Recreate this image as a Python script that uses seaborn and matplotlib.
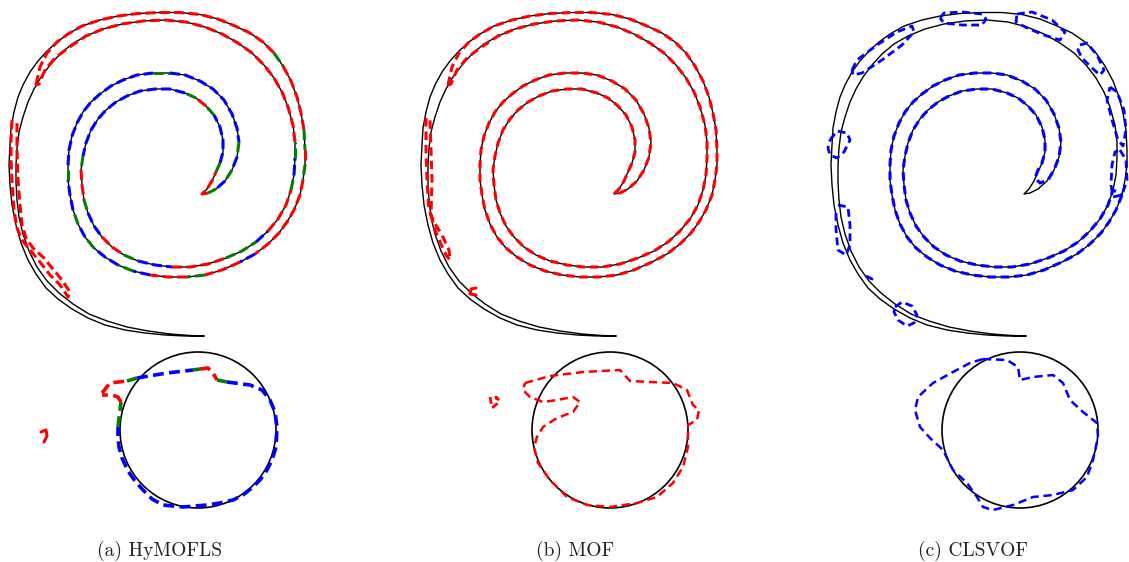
import matplotlib
matplotlib.use("Agg")
import matplotlib.pyplot as plt
from matplotlib.patches import Circle
import pandas as pd
import seaborn as sns

# ---------------- data (panel-local pixel coordinates) ----------------
captions = ["(a) HyMOFLS", "(b) MOF", "(c) CLSVOF"]
caption_x = [160, 163, 151]

# reference filament: outside face (tail tip -> spiral tip) and inside face (spiral tip -> tail tip)
ref_out_x = [204, 185, 165, 145, 125, 105, 88, 72, 58, 46, 36, 28, 21, 16, 12, 10, 9, 10, 11, 14,
             18, 23, 30, 38, 47, 57, 68, 82, 100, 118, 138, 160, 180, 200, 218, 235, 250, 263, 274, 283,
             291, 297, 301, 304, 305, 305, 303, 300, 294, 287, 279, 268, 255, 240, 222, 205, 187, 168, 150, 133,
             118, 105, 94, 85, 78, 73, 70, 68, 68, 69, 72, 77, 83, 91, 100, 111, 123, 137, 153, 170,
             185, 200, 213, 224, 232, 237, 239, 237, 232, 225, 216, 208, 202]
ref_out_y = [336, 336, 335, 333, 330, 325, 318, 309, 299, 288, 274, 260, 243, 225, 205, 185, 165, 145, 128, 112,
             97, 85, 72, 61, 51, 42, 34, 26, 20, 16, 13.5, 12.5, 12.5, 14.5, 19, 26, 33, 42, 53, 66,
             81, 97, 113, 130, 150, 165, 180, 195, 210, 222, 233, 244, 254, 262, 270, 275, 277, 277, 275, 271,
             265, 257, 248, 237, 224, 210, 195, 180, 165, 150, 136, 123, 112, 102, 94, 86, 80, 75, 73, 73,
             75, 81, 89, 100, 114, 128, 142, 157, 170, 181, 189, 193, 194]
ref_in_x = [202, 207, 212, 216, 220, 223, 223, 220, 214, 206, 196, 185, 170, 155, 140, 127, 116, 106, 98, 91,
            86, 83, 81, 82, 84, 88, 94, 102, 112, 124, 138, 155, 172, 190, 208, 226, 242, 256, 268, 278,
            286, 291, 294, 295, 295, 293, 288, 282, 274, 264, 252, 238, 222, 205, 186, 165, 143, 122, 103, 86,
            72, 60, 50, 41, 34, 28, 23, 19, 17, 16, 16, 17, 19, 23, 29, 37, 47, 59, 73, 89,
            107, 127, 148, 170, 190, 204]
ref_in_y = [194, 189, 181, 172, 163, 152, 140, 127, 115, 106, 98, 93, 89, 89, 91, 96, 102, 110, 119, 130,
            143, 156, 170, 185, 200, 213, 226, 237, 247, 255, 261, 265, 267, 267, 264, 258, 251, 242, 231, 219,
            205, 190, 175, 158, 142, 125, 107, 92, 78, 65, 53, 43, 34, 27, 22, 20, 21, 24, 29, 36,
            44, 54, 65, 77, 89, 102, 117, 132, 148, 165, 182, 200, 217, 234, 251, 267, 281, 293, 304, 314,
            321, 327, 331, 334, 335.5, 336]
ref_circle_center = (198, 430)
ref_circle_radius = 78

# computed interface following the spiral (HyMOFLS and MOF): closed loop
trace_x = [36, 40, 47, 57, 68, 82, 100, 118, 138, 160, 180, 200, 218, 235, 250, 263, 274, 283, 291, 297,
           301, 304, 305, 305, 303, 300, 294, 287, 279, 268, 255, 240, 222, 205, 187, 168, 150, 133, 118, 105,
           94, 85, 78, 73, 70, 68, 68, 69, 72, 77, 83, 91, 100, 111, 123, 137, 153, 170, 185, 200,
           213, 224, 232, 237, 239, 237, 232, 225, 216, 208, 202, 207, 212, 216, 220, 223, 223, 220, 214, 206,
           196, 185, 170, 155, 140, 127, 116, 106, 98, 91, 86, 83, 81, 82, 84, 88, 94, 102, 112, 124,
           138, 155, 172, 190, 208, 226, 242, 256, 268, 278, 286, 291, 294, 295, 295, 293, 288, 282, 274, 264,
           252, 238, 222, 205, 186, 165, 143, 122, 103, 86, 68, 55, 45, 39]
trace_y = [85, 67, 53, 42, 34, 26, 20, 16, 13.5, 12.5, 12.5, 14.5, 19, 26, 33, 42, 53, 66, 81, 97,
           113, 130, 150, 165, 180, 195, 210, 222, 233, 244, 254, 262, 270, 275, 277, 277, 275, 271, 265, 257,
           248, 237, 224, 210, 195, 180, 165, 150, 136, 123, 112, 102, 94, 86, 80, 75, 73, 73, 75, 81,
           89, 100, 114, 128, 142, 157, 170, 181, 189, 193, 194, 189, 181, 172, 163, 152, 140, 127, 115, 106,
           98, 93, 89, 89, 91, 96, 102, 110, 119, 130, 143, 156, 170, 185, 200, 213, 226, 237, 247, 255,
           261, 265, 267, 267, 264, 258, 251, 242, 231, 219, 205, 190, 175, 158, 142, 125, 107, 92, 78, 65,
           53, 43, 34, 27, 22, 20, 21, 24, 29, 36, 48, 58, 70, 84]
# material of the HyMOFLS trace, as runs of segments: r = MOF, b = level set, g = transition
hymofls_phase_runs = [("r", 16), ("g", 1), ("r", 4), ("g", 1), ("r", 1), ("g", 1), ("r", 6), ("b", 1),
                      ("r", 2), ("g", 1), ("r", 2), ("b", 1), ("g", 1), ("b", 2), ("g", 1), ("b", 1),
                      ("g", 1), ("b", 2), ("g", 1), ("b", 10), ("g", 1), ("b", 7), ("g", 1), ("b", 1),
                      ("g", 1), ("b", 1), ("g", 1), ("r", 4), ("g", 1), ("b", 4), ("g", 1), ("r", 1),
                      ("g", 1), ("b", 10), ("g", 1), ("r", 2), ("g", 1), ("b", 2), ("r", 2), ("g", 1),
                      ("b", 2), ("r", 3), ("g", 2), ("b", 1), ("r", 3), ("g", 1), ("b", 1), ("g", 1),
                      ("r", 20)]

# HyMOFLS extra pieces
hy_left_x = [12, 11, 11, 12, 14, 17, 22, 30, 40, 50, 60, 68, 70, 62, 52, 44, 33, 26, 22, 20, 18, 17, 17]
hy_left_y = [120, 140, 160, 180, 210, 228, 240, 250, 262, 275, 285, 297, 292, 280, 268, 258, 248, 238, 225, 205, 180, 150, 122]
hy_drop_x = [41, 46, 47, 44]
hy_drop_y = [432, 430, 436, 442]
hy_circle_x = [102, 110, 127, 137, 167, 193, 200, 208, 213, 217, 227, 250, 262, 270, 275, 277, 276, 272, 267, 260,
               253, 243, 233, 220, 207, 183, 163, 152, 143, 135, 128, 122, 119, 118, 118, 119, 121, 118, 112, 102]
hy_circle_y = [393, 383, 381, 378, 373, 370, 369, 368, 373, 380, 382, 385, 390, 400, 412, 427, 447, 460, 470, 480,
               487, 495, 500, 503, 505, 507, 505, 499, 490, 481, 471, 458, 447, 437, 427, 418, 402, 397, 395, 395]
hy_circle_phase_runs = [("r", 2), ("g", 1), ("b", 2), ("g", 1), ("r", 3), ("g", 1), ("b", 24), ("g", 2), ("r", 3)]

# MOF extra pieces
mof_left_x = [14, 14, 15, 17, 22, 30, 37, 38, 34, 28, 23, 19, 20, 19, 18]
mof_left_y = [118, 150, 180, 210, 222, 235, 250, 260, 255, 242, 230, 215, 180, 150, 120]
mof_c_x = [64, 59, 58, 64]
mof_c_y = [288, 289, 294, 295]
mof_v_x = [78, 80, 86, 84, 88]
mof_v_y = [397, 408, 403, 397, 401]
mof_circle_x = [113, 138, 171, 208, 218, 238, 261, 275, 281, 287, 285, 276, 276, 271, 261, 245, 225, 198,
                175, 155, 138, 126, 122, 125, 131, 145, 161, 168, 161, 145, 131, 118, 111, 113]
mof_circle_y = [383, 376, 372, 370, 381, 382, 383, 390, 405, 410, 420, 425, 447, 467, 483, 497, 503, 507,
                505, 497, 480, 463, 447, 437, 427, 418, 412, 402, 397, 400, 402, 397, 390, 383]

# CLSVOF pieces
clsvof_trace_x = [300, 294, 287, 279, 268, 255, 240, 222, 205, 187, 168, 150, 133, 118, 105, 94, 85, 78, 73, 70,
                  68, 68, 69, 72, 77, 83, 91, 100, 111, 123, 137, 153, 170, 185, 200, 213, 224, 232, 237, 239,
                  237, 232, 226, 218, 213, 216, 220, 223, 223, 220, 214, 206, 196, 185, 170, 155, 140, 127, 116, 106,
                  98, 91, 86, 83, 81, 82, 84, 88, 94, 102, 112, 124, 138, 155, 172, 190, 208, 226, 242, 256,
                  268, 278, 286, 291, 300]
clsvof_trace_y = [195, 210, 222, 233, 244, 254, 262, 270, 275, 277, 277, 275, 271, 265, 257, 248, 237, 224, 210, 195,
                  180, 165, 150, 136, 123, 112, 102, 94, 86, 80, 75, 73, 73, 75, 81, 89, 100, 114, 128, 142,
                  157, 170, 180, 183, 178, 170, 163, 152, 140, 127, 115, 106, 98, 93, 89, 89, 91, 96, 102, 110,
                  119, 130, 143, 156, 170, 185, 200, 213, 226, 237, 247, 255, 261, 265, 267, 267, 264, 258, 251, 242,
                  231, 219, 205, 190, 195]
clsvof_blobs = [
    ([118, 122, 140, 160, 164, 160, 140, 122, 118], [18, 13, 12, 14, 19, 25, 25, 23, 18]),
    ([195, 210, 230, 243, 238, 222, 205, 194, 195], [14, 12, 20, 32, 40, 35, 28, 22, 14]),
    ([258, 265, 275, 282, 278, 270, 260, 256, 258], [45, 43, 55, 70, 75, 68, 58, 50, 45]),
    ([288, 295, 302, 304, 301, 296, 290, 285, 288], [87, 92, 110, 130, 146, 140, 120, 100, 87]),
    ([298, 304, 305, 300, 291, 289, 290, 293, 298], [150, 160, 180, 195, 197, 185, 165, 152, 150]),
    ([30, 35, 55, 75, 90, 92, 80, 60, 40, 31, 30], [70, 60, 45, 32, 26, 32, 45, 60, 73, 75, 70]),
    ([8, 15, 25, 28, 22, 15, 8, 6, 8], [140, 131, 133, 140, 152, 158, 155, 148, 140]),
    ([16, 26, 28, 28, 24, 16, 14, 14], [205, 207, 225, 245, 255, 250, 230, 210]),
    ([44, 50, 48], [276, 279, 283]),
    ([73, 80, 90, 95, 92, 85, 76, 72, 73], [307, 302, 306, 315, 323, 326, 320, 312, 307]),
]
clsvof_circle_x = [161, 185, 196, 198, 211, 231, 241, 248, 261, 275, 276, 271, 265, 251, 231, 211, 191, 171,
                   161, 155, 145, 131, 121, 108, 98, 93, 96, 111, 131, 148, 161]
clsvof_circle_y = [359, 360, 367, 380, 377, 375, 383, 400, 412, 423, 437, 460, 477, 490, 495, 497, 505, 510,
                   507, 497, 483, 470, 450, 438, 427, 410, 397, 383, 372, 363, 359]

# ---------------- style ----------------
COL = {"r": "#ff0000", "b": "#0000ff", "g": "#008000"}
panel_offsets = [0, 412, 822]
W, H = 1129, 562
PANEL_W = 307

sns.set_theme(style="white")
plt.rcParams["font.family"] = ["cmr10", "DejaVu Serif"]
plt.rcParams["axes.formatter.use_mathtext"] = True


def line(ax, xs, ys, color, lw, dashes=None, closed=False):
    xs = list(xs)
    ys = list(ys)
    if closed:
        xs = xs + [xs[0]]
        ys = ys + [ys[0]]
    df = pd.DataFrame({"x": xs, "y": ys})
    ls = "-" if dashes is None else (0, dashes)
    sns.lineplot(data=df, x="x", y="y", sort=False, estimator=None, color=color,
                 linewidth=lw, linestyle=ls, ax=ax, legend=False)


def phased_line(ax, xs, ys, runs, lw, dashes, closed=False):
    xs = list(xs)
    ys = list(ys)
    if closed:
        xs = xs + [xs[0]]
        ys = ys + [ys[0]]
    i = 0
    n = len(xs) - 1
    for c, cnt in runs:
        if i >= n:
            break
        j = min(i + cnt, n)
        line(ax, xs[i:j + 1], ys[i:j + 1], COL[c], lw, dashes)
        i = j


fig = plt.figure(figsize=(W / 100, H / 100), dpi=100)
axes = [fig.add_axes([off / W, 0, PANEL_W / W, 1]) for off in panel_offsets]

for ax in axes:
    line(ax, ref_out_x + ref_in_x, ref_out_y + ref_in_y, "black", 1.0)
    ax.add_patch(Circle(ref_circle_center, ref_circle_radius, fill=False, ec="black", lw=1.2, zorder=1))

# (a) HyMOFLS
ax = axes[0]
phased_line(ax, trace_x, trace_y, hymofls_phase_runs, 2.2, (3.3, 1.4), closed=True)
line(ax, hy_left_x, hy_left_y, COL["r"], 2.2, (3.0, 1.4))
line(ax, hy_drop_x, hy_drop_y, COL["r"], 2.2)
phased_line(ax, hy_circle_x, hy_circle_y, hy_circle_phase_runs, 2.6, (3.0, 1.5))

# (b) MOF
ax = axes[1]
line(ax, trace_x, trace_y, COL["r"], 2.2, (2.8, 1.6), closed=True)
line(ax, mof_left_x, mof_left_y, COL["r"], 2.2, (2.8, 1.6))
line(ax, mof_c_x, mof_c_y, COL["r"], 2.2)
line(ax, mof_v_x, mof_v_y, COL["r"], 2.0, (2.5, 1.6))
line(ax, mof_circle_x, mof_circle_y, COL["r"], 1.8, (3.3, 1.9))

# (c) CLSVOF
ax = axes[2]
line(ax, clsvof_trace_x, clsvof_trace_y, COL["b"], 2.2, (2.8, 1.6))
for bx, by in clsvof_blobs:
    line(ax, bx, by, COL["b"], 2.0, (2.8, 1.6))
line(ax, clsvof_circle_x, clsvof_circle_y, COL["b"], 1.8, (3.3, 1.9))

for k, ax in enumerate(axes):
    ax.set_xlim(0, PANEL_W)
    ax.set_ylim(H, 0)
    ax.set_axis_off()
    ax.text(caption_x[k], 551, captions[k], ha="center", va="center", fontsize=14,
            family=["cmr10", "DejaVu Serif"], color="#222222")

fig.savefig("out.png", dpi=100, facecolor="white")
